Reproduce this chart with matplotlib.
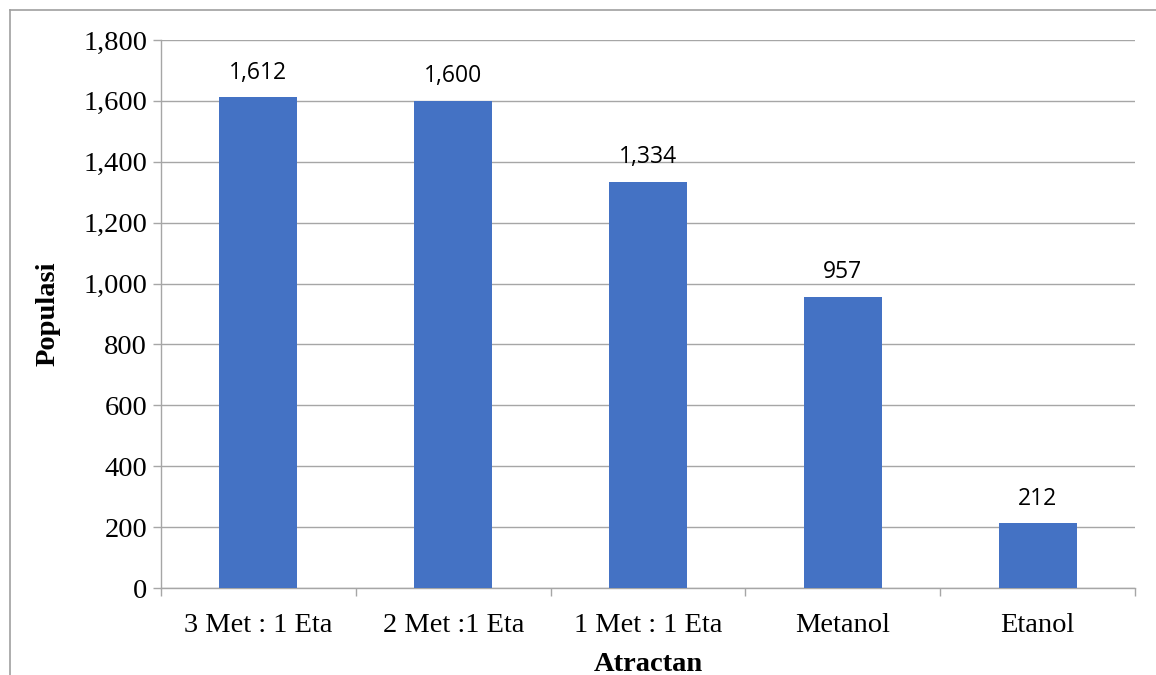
import matplotlib.pyplot as plt
from matplotlib.lines import Line2D
from matplotlib.ticker import FuncFormatter, FixedLocator

# data
categories = ['3 Met : 1 Eta', '2 Met :1 Eta', '1 Met : 1 Eta', 'Metanol', 'Etanol']
populasi = [1612, 1600, 1334, 957, 212]

fig = plt.figure(figsize=(11.56, 6.75), dpi=100)
ax = fig.add_axes([161 / 1156, 1 - 588 / 675, (1135 - 161) / 1156, (588 - 40) / 675])

grid_c = '#A6A6A6'
x = range(len(categories))
ax.bar(x, populasi, width=0.4, color='#4472C4', zorder=3)

for xi, v in zip(x, populasi):
    ax.annotate(f'{v:,}', (xi, v), xytext=(0, 9), textcoords='offset points',
                ha='center', va='bottom', fontsize=16.5, family='Open Sans')

ax.set_xlim(-0.5, len(categories) - 0.5)
ax.set_ylim(0, 1800)
ax.set_yticks(range(0, 1801, 200))
ax.yaxis.set_major_formatter(FuncFormatter(lambda v, p: f'{int(v):,}'))
ax.yaxis.grid(True, color=grid_c, linewidth=1, zorder=0)

# category labels between boundary ticks
ax.xaxis.set_major_locator(FixedLocator([i - 0.5 for i in range(len(categories) + 1)]))
ax.xaxis.set_major_formatter(FuncFormatter(lambda v, p: ''))
ax.xaxis.set_minor_locator(FixedLocator(list(x)))
ax.set_xticklabels(categories, minor=True)
ax.tick_params(axis='x', which='minor', length=0, pad=18)
ax.tick_params(axis='x', which='major', length=6, color=grid_c, width=1)
ax.tick_params(axis='y', length=6, color=grid_c, width=1, pad=4)

for lab in ax.get_xticklabels(minor=True) + ax.get_yticklabels():
    lab.set_family('Liberation Serif')
    lab.set_fontsize(20.5)

for s in ['top', 'right']:
    ax.spines[s].set_visible(False)
for s in ['left', 'bottom']:
    ax.spines[s].set_color(grid_c)
    ax.spines[s].set_linewidth(1)

ax.set_xlabel('Atractan', family='Liberation Serif', fontsize=20.5, fontweight='bold', labelpad=10)
ax.set_ylabel('Populasi', family='Liberation Serif', fontsize=20.5, fontweight='bold', labelpad=16)

# outer frame lines (left and top)
fig.add_artist(Line2D([10 / 1156, 10 / 1156], [0, 1 - 10 / 675], transform=fig.transFigure, color='#A0A0A0', lw=1.2))
fig.add_artist(Line2D([10 / 1156, 1], [1 - 10 / 675, 1 - 10 / 675], transform=fig.transFigure, color='#A0A0A0', lw=1.2))

fig.savefig('out.png', dpi=100)
